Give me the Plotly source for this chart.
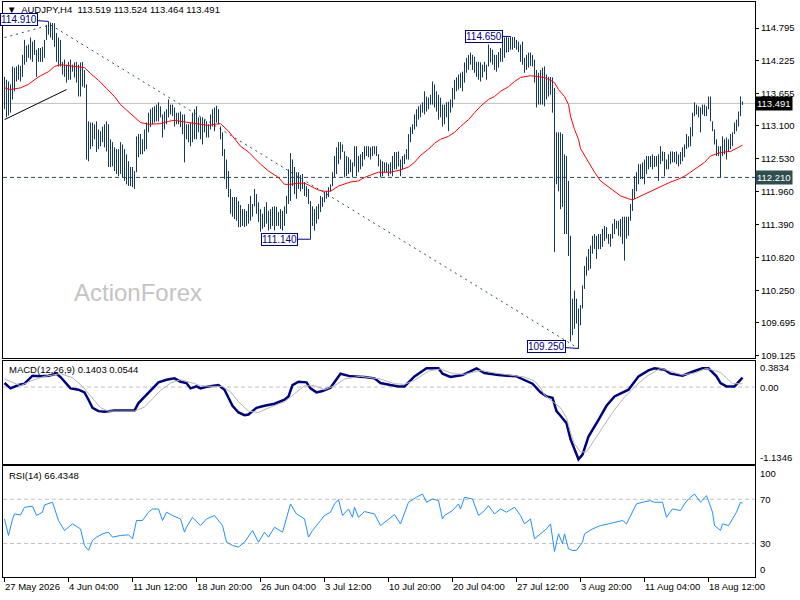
import plotly.graph_objects as go

# AUDJPY H4 bars (index 0 = first visible bar)
highs = [
    113.95, 113.90, 113.87, 113.82, 114.13, 114.11, 114.13, 114.16, 114.14, 114.33,
    114.59, 114.49, 114.51, 114.63, 114.56, 114.59, 114.42, 114.45, 114.45, 114.47,
    114.59, 114.85, 114.91, 114.89, 114.88, 114.88, 114.71, 114.63, 114.59, 114.21,
    114.25, 114.16, 114.21, 114.25, 114.16, 114.20, 114.21, 114.16, 114.20, 114.21,
    114.07, 113.82, 113.18, 113.16, 113.16, 113.13, 113.18, 113.04, 113.01, 113.09,
    113.13, 113.18, 113.13, 112.87, 112.82, 112.73, 112.70, 112.70, 112.82, 112.78,
    112.70, 112.61, 112.49, 112.39, 112.39, 112.32, 112.92, 112.96, 112.96, 112.87,
    113.04, 113.16, 113.33, 113.39, 113.42, 113.44, 113.47, 113.51, 113.44, 113.30,
    113.35, 113.39, 113.56, 113.47, 113.47, 113.42, 113.33, 113.33, 113.35, 113.30,
    113.30, 113.13, 113.13, 113.16, 113.33, 113.39, 113.44, 113.25, 113.25, 113.25,
    113.21, 113.18, 113.13, 113.30, 113.39, 113.42, 113.45, 113.39, 113.09, 112.99,
    112.70, 112.52, 112.32, 112.01, 111.87, 111.87, 111.87, 111.80, 111.73, 111.66,
    111.66, 111.63, 111.75, 111.89, 111.75, 112.01, 111.92, 111.78, 111.66, 111.58,
    111.70, 111.78, 111.63, 111.66, 111.70, 111.71, 111.70, 111.61, 111.66, 111.63,
    111.71, 111.89, 112.35, 112.63, 112.52, 112.39, 112.30, 112.30, 112.25, 112.27,
    112.13, 112.06, 112.01, 111.80, 111.71, 111.66, 111.71, 111.75, 111.89, 111.87,
    111.96, 111.97, 112.04, 112.09, 112.30, 112.58, 112.73, 112.82, 112.82, 112.78,
    112.66, 112.58, 112.56, 112.52, 112.47, 112.75, 112.75, 112.58, 112.61, 112.65,
    112.75, 112.75, 112.75, 112.73, 112.75, 112.75, 112.75, 112.61, 112.52, 112.49,
    112.47, 112.47, 112.44, 112.47, 112.58, 112.65, 112.65, 112.66, 112.52, 112.58,
    112.61, 112.70, 112.96, 113.08, 113.13, 113.30, 113.39, 113.44, 113.47, 113.51,
    113.70, 113.61, 113.59, 113.64, 113.87, 113.82, 113.70, 113.64, 113.59, 113.47,
    113.47, 113.51, 113.52, 113.56, 113.76, 113.90, 113.94, 113.99, 114.02, 114.04,
    114.20, 114.28, 114.33, 114.37, 114.33, 114.30, 114.21, 114.21, 114.20, 114.16,
    114.21, 114.16, 114.51, 114.45, 114.42, 114.33, 114.33, 114.38, 114.45, 114.56,
    114.63, 114.64, 114.63, 114.65, 114.64, 114.64, 114.59, 114.56, 114.51, 114.56,
    114.28, 114.33, 114.37, 114.37, 114.33, 114.25, 114.07, 114.02, 114.07, 114.11,
    114.13, 113.99, 113.95, 113.95, 113.94, 113.76, 112.99, 112.99, 112.99, 112.96,
    112.61, 112.58, 112.15, 111.20, 110.11, 110.25, 110.11, 109.94, 110.00, 110.34,
    110.68, 110.84, 110.97, 111.03, 111.20, 111.23, 111.20, 111.23, 111.23, 111.32,
    111.37, 111.35, 111.23, 111.23, 111.41, 111.49, 111.46, 111.46, 111.49, 111.53,
    111.53, 111.53, 111.53, 111.75, 112.01, 112.23, 112.30, 112.44, 112.44, 112.47,
    112.52, 112.58, 112.58, 112.58, 112.61, 112.58, 112.58, 112.61, 112.75, 112.66,
    112.65, 112.52, 112.61, 112.66, 112.66, 112.65, 112.66, 112.61, 112.65, 112.73,
    112.78, 112.96, 112.92, 113.08, 113.33, 113.51, 113.47, 113.44, 113.42, 113.47,
    113.47, 113.44, 113.61, 113.61, 113.18, 113.04, 112.87, 112.75, 112.75, 112.92,
    112.87, 112.90, 112.87, 112.96, 112.99, 113.16, 113.21, 113.35, 113.61, 113.524,
]
lows = [
    113.39, 113.25, 113.28, 113.33, 113.56, 113.70, 113.87, 113.90, 113.87, 113.95,
    114.16, 114.21, 114.28, 114.25, 114.21, 114.33, 113.95, 114.21, 114.21, 114.21,
    114.28, 114.59, 114.68, 114.63, 114.59, 114.47, 114.21, 114.13, 114.13, 113.99,
    113.95, 113.85, 113.90, 113.90, 114.04, 113.94, 113.85, 113.61, 113.61, 113.78,
    113.76, 112.52, 112.49, 112.70, 112.75, 112.87, 112.65, 112.70, 112.75, 112.82,
    112.73, 112.66, 112.39, 112.39, 112.40, 112.32, 112.27, 112.23, 112.27, 112.21,
    112.15, 112.09, 112.06, 112.06, 112.04, 112.01, 112.30, 112.56, 112.61, 112.61,
    112.66, 112.70, 112.99, 113.08, 113.13, 113.16, 113.18, 113.18, 113.25, 112.90,
    113.04, 113.13, 113.25, 113.30, 113.27, 113.09, 113.13, 113.13, 113.08, 112.96,
    112.47, 112.87, 112.82, 112.75, 112.82, 112.87, 112.87, 112.99, 112.87, 112.78,
    112.99, 112.90, 112.90, 113.04, 113.09, 113.01, 113.16, 113.13, 112.87, 112.58,
    112.18, 112.01, 111.87, 111.58, 111.53, 111.49, 111.46, 111.35, 111.35, 111.37,
    111.35, 111.37, 111.41, 111.46, 111.53, 111.71, 111.58, 111.44, 111.27, 111.32,
    111.35, 111.41, 111.29, 111.32, 111.37, 111.29, 111.37, 111.37, 111.32, 111.29,
    111.37, 111.58, 111.75, 111.80, 112.06, 111.92, 111.84, 112.01, 111.97, 112.01,
    111.89, 111.87, 111.75, 111.14, 111.37, 111.29, 111.41, 111.49, 111.61, 111.70,
    111.78, 111.84, 111.87, 111.97, 112.06, 112.21, 112.27, 112.44, 112.52, 112.65,
    112.21, 112.23, 112.27, 112.30, 112.21, 112.40, 112.23, 112.30, 112.35, 112.40,
    112.52, 112.58, 112.56, 112.52, 112.58, 112.61, 112.58, 112.40, 112.21, 112.23,
    112.30, 112.30, 112.23, 112.27, 112.23, 112.35, 112.35, 112.40, 112.23, 112.35,
    112.44, 112.52, 112.52, 112.82, 112.96, 113.04, 113.09, 113.21, 113.25, 113.33,
    113.30, 113.35, 113.39, 113.47, 113.47, 113.42, 113.35, 113.21, 113.25, 113.09,
    113.13, 113.25, 113.01, 113.33, 113.42, 113.56, 113.70, 113.73, 113.76, 113.70,
    113.85, 114.02, 114.07, 114.16, 114.07, 114.02, 113.95, 113.90, 113.87, 113.94,
    114.04, 113.90, 114.13, 114.20, 114.16, 114.07, 114.04, 114.11, 114.21, 114.21,
    114.28, 114.37, 114.38, 114.42, 114.42, 114.45, 114.42, 114.38, 114.21, 114.16,
    114.02, 114.07, 114.11, 114.14, 114.13, 113.85, 113.42, 113.47, 113.47, 113.47,
    113.44, 113.56, 113.61, 113.64, 113.33, 110.92, 112.09, 111.97, 111.66, 111.70,
    111.23, 111.23, 110.85, 109.37, 109.48, 109.59, 109.68, 109.25, 109.65, 109.94,
    110.28, 110.51, 110.60, 110.63, 110.89, 110.97, 110.80, 110.97, 110.97, 111.01,
    111.11, 111.15, 111.06, 111.01, 111.15, 111.23, 111.32, 111.20, 111.18, 111.06,
    110.77, 111.15, 111.20, 111.46, 111.63, 111.84, 111.97, 112.09, 112.18, 112.18,
    112.09, 112.27, 112.35, 112.39, 112.35, 112.39, 112.40, 112.15, 112.44, 112.49,
    112.23, 112.35, 112.35, 112.44, 112.47, 112.47, 112.44, 112.40, 112.44, 112.49,
    112.56, 112.70, 112.73, 112.75, 112.92, 113.27, 113.30, 113.25, 112.99, 113.30,
    113.27, 113.27, 113.39, 113.18, 113.01, 112.78, 112.58, 112.58, 112.21, 112.58,
    112.61, 112.52, 112.65, 112.70, 112.75, 112.96, 113.01, 113.09, 113.27, 113.464,
]

# red moving average
ma_i = [0, 3, 8, 12, 15, 18, 22, 25, 28, 32, 36, 40, 43, 47, 51, 55, 58, 62, 65, 68,
        72, 75, 78, 82, 85, 88, 92, 95, 98, 102, 105, 108, 112, 115, 118, 122, 125, 128, 132, 137,
        140, 143, 147, 150, 153, 157, 160, 163, 167, 170, 173, 177, 180, 183, 187, 193, 198, 202, 205, 208,
        212, 215, 218, 222, 225, 228, 232, 235, 238, 242, 245, 248, 252, 255, 258, 263, 267, 270, 273, 275,
        277, 280, 282, 283, 285, 287, 288, 292, 295, 298, 302, 305, 308, 312, 314, 317, 320, 323, 327, 330,
        333, 337, 340, 343, 347, 350, 353, 357, 360, 363, 367, 369]
ma_v = [113.76, 113.73, 113.76, 113.82, 113.90, 113.97, 114.04, 114.13, 114.16, 114.14,
        114.13, 114.11, 114.01, 113.89, 113.75, 113.61, 113.47, 113.35, 113.25, 113.16,
        113.13, 113.14, 113.14, 113.18, 113.20, 113.18, 113.16, 113.14, 113.13, 113.11,
        113.13, 113.14, 113.01, 112.87, 112.75, 112.65, 112.54, 112.44, 112.32, 112.21,
        112.09, 112.09, 112.11, 112.11, 112.06, 111.99, 111.97, 111.97, 112.06, 112.09,
        112.13, 112.15, 112.21, 112.25, 112.30, 112.30, 112.34, 112.39, 112.47, 112.59,
        112.70, 112.80, 112.87, 112.92, 112.99, 113.09, 113.21, 113.33, 113.44, 113.56,
        113.61, 113.70, 113.78, 113.87, 113.94, 113.97, 113.95, 113.94, 113.89, 113.85,
        113.73, 113.61, 113.47, 113.27, 113.04, 112.87, 112.71, 112.47, 112.30, 112.15,
        112.04, 111.96, 111.89, 111.84, 111.82, 111.87, 111.92, 111.97, 112.04, 112.09,
        112.13, 112.18, 112.23, 112.30, 112.39, 112.47, 112.58, 112.63, 112.65, 112.66,
        112.73, 112.77]

# drawn objects on the price pane
trend_i = [0, 23, 287]
trend_p = [114.63, 114.85, 109.25]
channel_i = [0, 31]
channel_p = [113.21, 113.73]
marks_i = [22, 153, 253, 287]
marks_p = [114.91, 111.14, 114.65, 109.25]
marks_txt = ["114.910", "111.140", "114.650", "109.250"]
bid = 113.491
level = 112.210
price_ticks = [114.795, 114.225, 113.655, 113.100, 112.530, 111.960,
               111.390, 110.820, 110.250, 109.695, 109.125]

# MACD(12,26,9)
macd_i = [0, 3, 7, 10, 14, 18, 22, 26, 28, 32, 33, 37, 40, 42, 44, 47, 50, 55, 65, 67,
          70, 72, 75, 77, 81, 85, 88, 91, 93, 96, 98, 102, 107, 110, 112, 114, 117, 120, 122, 126,
          130, 135, 140, 142, 144, 147, 151, 153, 156, 159, 163, 168, 173, 180, 185, 188, 193, 197, 200, 205,
          211, 217, 219, 223, 229, 236, 240, 247, 256, 260, 264, 268, 271, 274, 276, 278, 281, 283, 286, 287,
          289, 292, 297, 301, 305, 309, 312, 317, 322, 325, 330, 333, 339, 345, 349, 352, 356, 358, 361, 365,
          369]
macd_v = [0.06, -0.02, 0.03, 0.05, 0.17, 0.16, 0.17, 0.20, 0.15, 0.01,
          -0.02, -0.04, -0.08, -0.19, -0.31, -0.36, -0.37, -0.35, -0.35, -0.24,
          -0.15, -0.08, 0.01, 0.07, 0.11, 0.13, 0.08, 0.06, -0.02, 0.01,
          -0.02, 0.01, 0.03, -0.04, -0.16, -0.28, -0.38, -0.42, -0.41, -0.31,
          -0.28, -0.25, -0.19, -0.14, 0.03, 0.08, 0.07, -0.02, -0.08, -0.06,
          -0.01, 0.20, 0.16, 0.15, 0.13, 0.06, 0.03, 0.01, 0.01, 0.16,
          0.28, 0.28, 0.20, 0.15, 0.18, 0.28, 0.21, 0.18, 0.16, 0.10,
          0.05, -0.08, -0.14, -0.16, -0.36, -0.43, -0.54, -0.78, -1.01, -1.08,
          -1.01, -0.74, -0.49, -0.28, -0.14, -0.08, -0.04, 0.16, 0.25, 0.28,
          0.26, 0.20, 0.17, 0.24, 0.28, 0.28, 0.16, 0.06, 0.01, 0.01,
          0.14]
sig_i = [0, 8, 13, 20, 28, 34, 39, 43, 48, 52, 65, 70, 73, 78, 83, 88, 93, 98, 104, 109,
         113, 117, 122, 127, 133, 140, 145, 150, 155, 160, 165, 170, 178, 188, 195, 200, 205, 212, 218, 224,
         230, 238, 245, 255, 260, 265, 268, 270, 274, 278, 281, 283, 285, 288, 291, 294, 298, 304, 310, 315,
         321, 328, 339, 345, 351, 358, 364, 369]
sig_v = [0.12, 0.02, 0.09, 0.16, 0.20, 0.14, 0.01, -0.13, -0.31, -0.36,
         -0.36, -0.30, -0.20, -0.05, 0.06, 0.11, 0.07, 0.02, 0.01, 0.01,
         -0.07, -0.22, -0.36, -0.38, -0.30, -0.22, -0.10, 0.02, 0.02, -0.04,
         0.02, 0.12, 0.16, 0.12, 0.05, 0.04, 0.10, 0.24, 0.27, 0.20,
         0.19, 0.25, 0.21, 0.17, 0.15, 0.09, -0.01, -0.12, -0.21, -0.31,
         -0.46, -0.68, -0.85, -0.97, -0.97, -0.83, -0.65, -0.38, -0.15, 0.0,
         0.16, 0.28, 0.18, 0.21, 0.28, 0.22, 0.05, 0.05]

# RSI(14)
rsi_i = [0, 2, 4, 5, 8, 10, 14, 16, 19, 20, 24, 27, 30, 34, 38, 40, 42, 44, 46, 49,
         52, 54, 58, 62, 64, 66, 69, 72, 74, 77, 79, 81, 84, 88, 90, 91, 94, 98, 101, 105,
         109, 111, 114, 117, 120, 124, 127, 130, 132, 135, 139, 141, 143, 146, 150, 152, 154, 158, 160, 163,
         165, 167, 169, 172, 174, 175, 177, 180, 185, 188, 191, 195, 198, 202, 206, 209, 211, 214, 217, 219,
         220, 224, 227, 228, 230, 234, 237, 240, 242, 245, 248, 251, 255, 258, 260, 263, 265, 268, 271, 273,
         275, 277, 279, 280, 282, 284, 286, 289, 290, 294, 298, 302, 306, 309, 311, 314, 316, 319, 323, 325,
         329, 331, 334, 338, 340, 342, 345, 348, 351, 354, 355, 358, 359, 362, 364, 366, 368, 369]
rsi_v = [52.2, 37.2, 52.0, 56.7, 55.8, 62.8, 63.7, 55.3, 58.3, 64.9,
         67.3, 50.7, 41.7, 47.7, 43.2, 28.2, 23.7, 32.7, 35.7, 38.7,
         40.2, 35.7, 37.2, 37.8, 34.2, 50.8, 50.8, 58.3, 61.2, 61.2,
         50.8, 58.3, 55.3, 52.2, 40.2, 44.7, 53.7, 46.2, 52.2, 55.3,
         46.2, 31.2, 28.2, 26.7, 31.2, 41.7, 31.2, 40.2, 35.7, 44.7,
         40.2, 52.2, 65.8, 56.7, 52.2, 35.7, 41.7, 50.8, 55.3, 58.3,
         65.8, 69.7, 55.3, 61.2, 53.7, 62.8, 53.7, 58.9, 56.7, 46.2,
         50.8, 56.2, 47.7, 67.3, 71.8, 74.8, 67.3, 70.3, 68.8, 52.2,
         55.3, 59.8, 65.8, 61.2, 71.8, 70.3, 55.3, 59.8, 64.3, 56.7,
         61.2, 58.3, 62.8, 55.3, 47.7, 52.2, 34.2, 38.7, 43.2, 47.7,
         22.7, 38.7, 29.7, 38.7, 25.2, 23.7, 23.7, 31.2, 38.7, 43.2,
         46.2, 47.7, 49.2, 50.8, 47.7, 58.3, 65.8, 67.3, 68.8, 67.3,
         67.3, 53.7, 61.2, 59.8, 65.8, 70.3, 74.8, 67.3, 73.3, 58.3,
         46.2, 41.7, 47.7, 46.2, 52.2, 58.3, 67.3, 66.43]

date_ticks = [0, 32, 64, 96, 128, 160, 192, 224, 256, 288, 320, 352]
date_labels = ["27 May 2026", "4 Jun 04:00", "11 Jun 12:00", "18 Jun 20:00",
               "26 Jun 04:00", "3 Jul 12:00", "10 Jul 20:00", "20 Jul 04:00",
               "27 Jul 12:00", "3 Aug 20:00", "11 Aug 04:00", "18 Aug 12:00"]

FONT = "Liberation Sans, Arial, DejaVu Sans, sans-serif"
NAVY = "#00008b"

bx, by = [], []
for i, (h, l) in enumerate(zip(highs, lows)):
    bx += [i, i, None]
    by += [l, h, None]

fig = go.Figure()
fig.add_trace(go.Scatter(x=trend_i, y=trend_p, mode="lines",
                         line=dict(color="#2f4f4f", width=1, dash="2px,4px"), hoverinfo="skip"))
fig.add_trace(go.Scatter(x=channel_i, y=channel_p, mode="lines",
                         line=dict(color="black", width=1), hoverinfo="skip"))
fig.add_trace(go.Scatter(x=bx, y=by, mode="lines",
                         line=dict(color="#123a5c", width=1), hoverinfo="skip"))
fig.add_trace(go.Scatter(x=ma_i, y=ma_v, mode="lines",
                         line=dict(color="#ff0000", width=1), hoverinfo="skip"))

fig.add_trace(go.Scatter(x=macd_i, y=macd_v, mode="lines", xaxis="x2", yaxis="y2",
                         line=dict(color="#000080", width=2.5), hoverinfo="skip"))
fig.add_trace(go.Scatter(x=sig_i, y=sig_v, mode="lines", xaxis="x2", yaxis="y2",
                         line=dict(color="#b4b4b4", width=1), hoverinfo="skip"))

fig.add_trace(go.Scatter(x=rsi_i, y=rsi_v, mode="lines", xaxis="x3", yaxis="y3",
                         line=dict(color="#1e90ff", width=1), hoverinfo="skip"))

# 2 px per bar, bars centred on pixel columns
xdom = [3 / 800, 755 / 800]
xa = dict(domain=xdom, range=[-0.75, 375.25], showgrid=False, zeroline=False,
          showticklabels=False, showline=True, linecolor="black", linewidth=1, mirror=True)
ya = dict(side="right", showgrid=False, zeroline=False, showline=True,
          linecolor="black", linewidth=1, mirror=True)

fig.update_layout(
    width=800, height=600, margin=dict(l=0, r=0, t=0, b=0),
    paper_bgcolor="white", plot_bgcolor="white", showlegend=False,
    font=dict(family=FONT, size=10, color="black"),
    xaxis=dict(xa, anchor="y"),
    xaxis2=dict(xa, anchor="y2"),
    xaxis3=dict(xa, anchor="y3", ticks="outside", ticklen=4, tickcolor="black",
                tickvals=date_ticks),
    yaxis=dict(ya, anchor="x", domain=[0.4, 0.99667], range=[109.081, 115.246],
               tickvals=price_ticks, tickformat=".3f", ticks="outside", ticklen=3,
               tickcolor="black", tickfont=dict(size=9.5, color="black", family=FONT)),
    yaxis2=dict(ya, anchor="x2", domain=[0.2233, 0.3958], range=[-1.146, 0.394],
                showticklabels=False),
    yaxis3=dict(ya, anchor="x3", domain=[0.0342, 0.2192], range=[0, 100],
                showticklabels=False),
)

# horizontal levels
fig.add_shape(type="line", xref="x domain", x0=0, x1=1, yref="y", y0=bid, y1=bid,
              line=dict(color="#c0c0c0", width=1), layer="below")
fig.add_shape(type="line", xref="x domain", x0=0, x1=1, yref="y", y0=level, y1=level,
              line=dict(color="#2f4f4f", width=1, dash="4px,3px"), layer="below")
fig.add_shape(type="line", xref="x2 domain", x0=0, x1=1, yref="y2", y0=0, y1=0,
              line=dict(color="#c0c0c0", width=1, dash="4px,3px"), layer="below")
for lv in (70, 30):
    fig.add_shape(type="line", xref="x3 domain", x0=0, x1=1, yref="y3", y0=lv, y1=lv,
                  line=dict(color="#c0c0c0", width=1, dash="4px,3px"), layer="below")

# price marks with connectors
offsets = [(-30, -2), (-31, 0), (-27, 0), (-32, -2)]
for i, p, t, (ax, ay) in zip(marks_i, marks_p, marks_txt, offsets):
    fig.add_annotation(x=i, y=p, xref="x", yref="y", text=t, showarrow=True,
                       arrowhead=0, arrowwidth=1, arrowcolor=NAVY, ax=ax, ay=ay,
                       font=dict(size=10, color=NAVY, family=FONT), bgcolor="white",
                       bordercolor=NAVY, borderwidth=1, borderpad=0)

# current price / level boxes on the scale
fig.add_annotation(x=755 / 800, y=bid, xref="paper", yref="y", text="113.491",
                   showarrow=False, xanchor="left", bgcolor="black",
                   font=dict(size=9.5, color="white", family=FONT), borderpad=1)
fig.add_annotation(x=755 / 800, y=level, xref="paper", yref="y", text="112.210",
                   showarrow=False, xanchor="left", bgcolor="#2f4f4f",
                   font=dict(size=9.5, color="white", family=FONT), borderpad=1)

# titles
fig.add_annotation(x=5 / 800, y=1 - 10 / 600, xref="paper", yref="paper",
                   text="\u25bc\u00a0 AUDJPY,H4\u00a0\u00a0113.519 113.524 113.464 113.491",
                   showarrow=False, xanchor="left", yanchor="middle",
                   font=dict(size=9.5, color="black", family=FONT))
fig.add_annotation(x=7 / 800, y=1 - 371 / 600, xref="paper", yref="paper",
                   text="MACD(12,26,9) 0.1403 0.0544", showarrow=False,
                   xanchor="left", yanchor="middle", font=dict(size=9.5, family=FONT))
fig.add_annotation(x=7 / 800, y=1 - 478 / 600, xref="paper", yref="paper",
                   text="RSI(14) 66.4348", showarrow=False,
                   xanchor="left", yanchor="middle", font=dict(size=9.5, family=FONT))
fig.add_annotation(x=72 / 800, y=1 - 294 / 600, xref="paper", yref="paper",
                   text="ActionForex", showarrow=False, xanchor="left", yanchor="middle",
                   font=dict(size=24, color="#c4c4c4", family="Liberation Sans, Arial"))

# indicator scale labels
side_labels = [("0.3834", 369.7), ("0.00", 389), ("-1.1346", 459.7),
               ("100", 475.7), ("70", 502), ("30", 546.3), ("0", 572.3)]
for t, yp in side_labels:
    fig.add_annotation(x=757.5 / 800, y=1 - yp / 600, xref="paper", yref="paper", text=t,
                       showarrow=False, xanchor="left", yanchor="middle",
                       font=dict(size=9.5, family=FONT))

# time labels, left aligned at their ticks
for i, t in zip(date_ticks, date_labels):
    fig.add_annotation(x=i, y=1 - 589.5 / 600, xref="x3", yref="paper", text=t,
                       showarrow=False, xanchor="left", yanchor="middle", xshift=-2,
                       font=dict(size=9.5, family=FONT))

# the page body has a default margin; drop it so the 800x600 figure sits at the origin
fig.write_html("out.html", config={"displayModeBar": False},
               post_script="document.body.style.margin='0';")
